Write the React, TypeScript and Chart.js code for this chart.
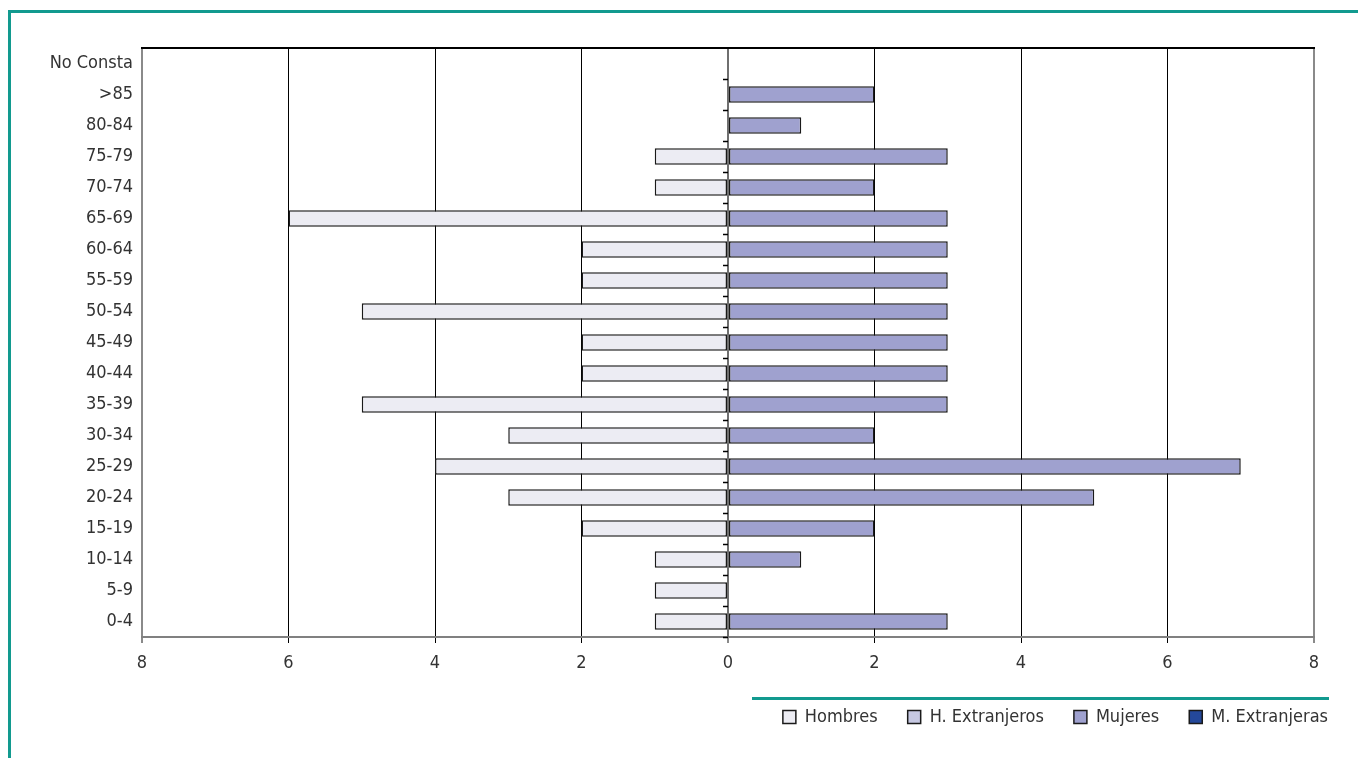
import { useEffect, useRef } from 'react';
import { Chart, registerables } from 'chart.js';

Chart.register(...registerables);

const ageGroups = ['No Consta', '>85', '80-84', '75-79', '70-74', '65-69', '60-64', '55-59', '50-54', '45-49', '40-44', '35-39', '30-34', '25-29', '20-24', '15-19', '10-14', '5-9', '0-4'];
const hombres = [0, 0, 0, 1, 1, 6, 2, 2, 5, 2, 2, 5, 3, 4, 3, 2, 1, 1, 1];
const hExtranjeros = [0, 0, 0, 0, 0, 0, 0, 0, 0, 0, 0, 0, 0, 0, 0, 0, 0, 0, 0];
const mujeres = [0, 2, 1, 3, 2, 3, 3, 3, 3, 3, 3, 3, 2, 7, 5, 2, 1, 0, 3];
const mExtranjeras = [0, 0, 0, 0, 0, 0, 0, 0, 0, 0, 0, 0, 0, 0, 0, 0, 0, 0, 0];
const seriesNames = ['Hombres', 'H. Extranjeros', 'Mujeres', 'M. Extranjeras'];
const seriesColors = ['#ececf3', '#c6c8e2', '#9fa1cf', '#24489a'];
const xMin = -8;
const xMax = 8;
const xStep = 2;

const FONT = "'Liberation Sans Narrow', 'Arial Narrow', 'DejaVu Sans Condensed', sans-serif";
const TEXT = '#333333';
const TEAL = '#129a8f';

const framePlugin = {
  id: 'frameAndTicks',
  afterDatasetsDraw(chart: any) {
    const { ctx, chartArea, scales } = chart;
    const x0 = scales.x.getPixelForValue(0);
    const y = scales.y;
    ctx.save();
    ctx.strokeStyle = '#666';
    ctx.lineWidth = 1.5;
    ctx.beginPath();
    ctx.moveTo(x0, chartArea.top);
    ctx.lineTo(x0, chartArea.bottom);
    ctx.stroke();
    ctx.strokeStyle = '#000';
    ctx.lineWidth = 2;
    ctx.beginPath();
    ctx.moveTo(chartArea.left - 1, chartArea.top);
    ctx.lineTo(chartArea.right + 1, chartArea.top);
    ctx.stroke();
    ctx.lineWidth = 1.5;
    for (let i = 1; i <= ageGroups.length; i++) {
      const py = Math.round(y.getPixelForValue(i - 0.5)) + 0.5;
      ctx.beginPath();
      ctx.moveTo(x0 - 5, py);
      ctx.lineTo(x0, py);
      ctx.stroke();
    }
    ctx.restore();
  },
};

export default function App() {
  const ref = useRef<HTMLCanvasElement | null>(null);

  useEffect(() => {
    if (!ref.current) return;
    const sets = [hombres.map((v) => -v), hExtranjeros.map((v) => -v), mujeres, mExtranjeras];
    const chart = new Chart(ref.current, {
      type: 'bar',
      data: {
        labels: ageGroups,
        datasets: sets.map((d, i) => ({
          label: seriesNames[i],
          data: d,
          backgroundColor: seriesColors[i],
          borderColor: '#1a1a1a',
          borderWidth: 1.5,
          borderSkipped: false,
          stack: 'pyramid',
          categoryPercentage: 1,
          barPercentage: 0.53,
        })),
      },
      options: {
        indexAxis: 'y',
        responsive: false,
        animation: false,
        devicePixelRatio: 1,
        events: [],
        layout: { padding: { left: 20, top: 48, right: 0, bottom: 22 } },
        plugins: {
          tooltip: { enabled: false },
          legend: {
            position: 'bottom',
            align: 'end',
            labels: {
              boxWidth: 13,
              boxHeight: 13,
              padding: 30,
              color: TEXT,
              font: { family: FONT, size: 18 },
            },
          },
        },
        scales: {
          x: {
            type: 'linear',
            stacked: true,
            min: xMin,
            max: xMax,
            ticks: {
              stepSize: xStep,
              color: TEXT,
              padding: 10,
              font: { family: FONT, size: 18 },
              callback: (v: any) => String(Math.abs(Number(v))),
            },
            grid: {
              color: (c: any) => (Math.abs(c.tick.value) === 8 || c.tick.value === 0 ? '#8a8a8a' : '#000'),
              tickColor: (c: any) => (Math.abs(c.tick.value) === 8 || c.tick.value === 0 ? '#8a8a8a' : '#000'),
              lineWidth: (c: any) => (Math.abs(c.tick.value) === 8 || c.tick.value === 0 ? 2 : 1),
              tickLength: 6,
            },
            border: { display: true, color: '#808080', width: 2 },
            afterFit: (s: any) => {
              s.height = 41;
            },
          },
          y: {
            type: 'category',
            stacked: true,
            position: 'left',
            grid: { display: false, drawTicks: false },
            border: { display: false },
            ticks: {
              color: TEXT,
              padding: 9,
              font: { family: FONT, size: 18 },
            },
            afterFit: (s: any) => {
              s.width = 122;
            },
          },
          yRight: {
            type: 'category',
            position: 'right',
            display: true,
            grid: { display: false, drawTicks: false },
            border: { display: false },
            ticks: { display: false },
            afterFit: (s: any) => {
              s.width = 44;
            },
          },
        },
      },
      plugins: [framePlugin],
    });
    return () => chart.destroy();
  }, []);

  return (
    <div style={{ position: 'fixed', left: 0, top: 0, width: 1358, height: 758, background: '#fff' }}>
      <div
        style={{
          position: 'absolute',
          left: 8,
          top: 10,
          width: 1350,
          height: 748,
          borderTop: `3px solid ${TEAL}`,
          borderLeft: `3px solid ${TEAL}`,
          boxSizing: 'border-box',
        }}
      />
      <div style={{ position: 'absolute', left: 752, top: 697, width: 577, height: 3, background: TEAL }} />
      <canvas ref={ref} width={1358} height={758} style={{ position: 'absolute', left: 0, top: 0, width: 1358, height: 758 }} />
    </div>
  );
}
